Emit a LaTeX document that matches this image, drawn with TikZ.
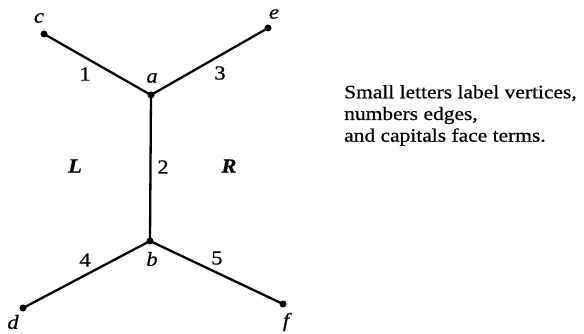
\documentclass[tikz,border=0pt]{standalone}
\usepackage{fontspec}
\setmainfont{Liberation Serif}[FakeStretch=1.13,FakeBold=0.6]
\begin{document}
\begin{tikzpicture}[x=1pt,y=-1pt,
  edge/.style={line width=2.3pt},
  vdot/.style={circle,fill=black,inner sep=0pt,minimum size=7pt},
  lbl/.style={inner sep=0pt,font=\fontsize{20}{21.7}\selectfont},
  vl/.style={lbl,font=\fontsize{20}{21.7}\selectfont\itshape},
  fl/.style={lbl,font=\fontsize{20}{21.7}\selectfont\bfseries\itshape}]
\useasboundingbox (0,0) rectangle (584,334);
\node[vdot] (a) at (151,95) {};
\node[vdot] (b) at (150,241) {};
\node[vdot] (c) at (44,34) {};
\node[vdot] (e) at (268,28) {};
\node[vdot] (d) at (23,308) {};
\node[vdot] (f) at (283,304) {};
\draw[edge] (c.center) -- (a.center);
\draw[edge] (e.center) -- (a.center);
\draw[edge] (a.center) -- (b.center);
\draw[edge] (b.center) -- (d.center);
\draw[edge] (b.center) -- (f.center);
\node[vl] (la) at (152,78) {a};
\node[vl] (lb) at (152,259) {b};
\node[vl] (lc) at (39,18) {c};
\node[vl] (le) at (274,14) {e};
\node[vl] (ld) at (13,322) {d};
\node[vl] (lf) at (286,322) {f};
\node[lbl] (n1) at (85,74) {1};
\node[lbl] (n3) at (220,73) {3};
\node[lbl] (n2) at (163,167) {2};
\node[lbl] (n4) at (85,260) {4};
\node[lbl] (n5) at (217,258) {5};
\node[fl] (L) at (75,166) {L};
\node[fl] (R) at (229,166) {R};
\node[lbl,font=\fontsize{19}{21.7}\selectfont,anchor=base west,align=left] (txt) at (344,141.7) {Small letters label vertices,\\numbers edges,\\and capitals face terms.};
\end{tikzpicture}
\end{document}
